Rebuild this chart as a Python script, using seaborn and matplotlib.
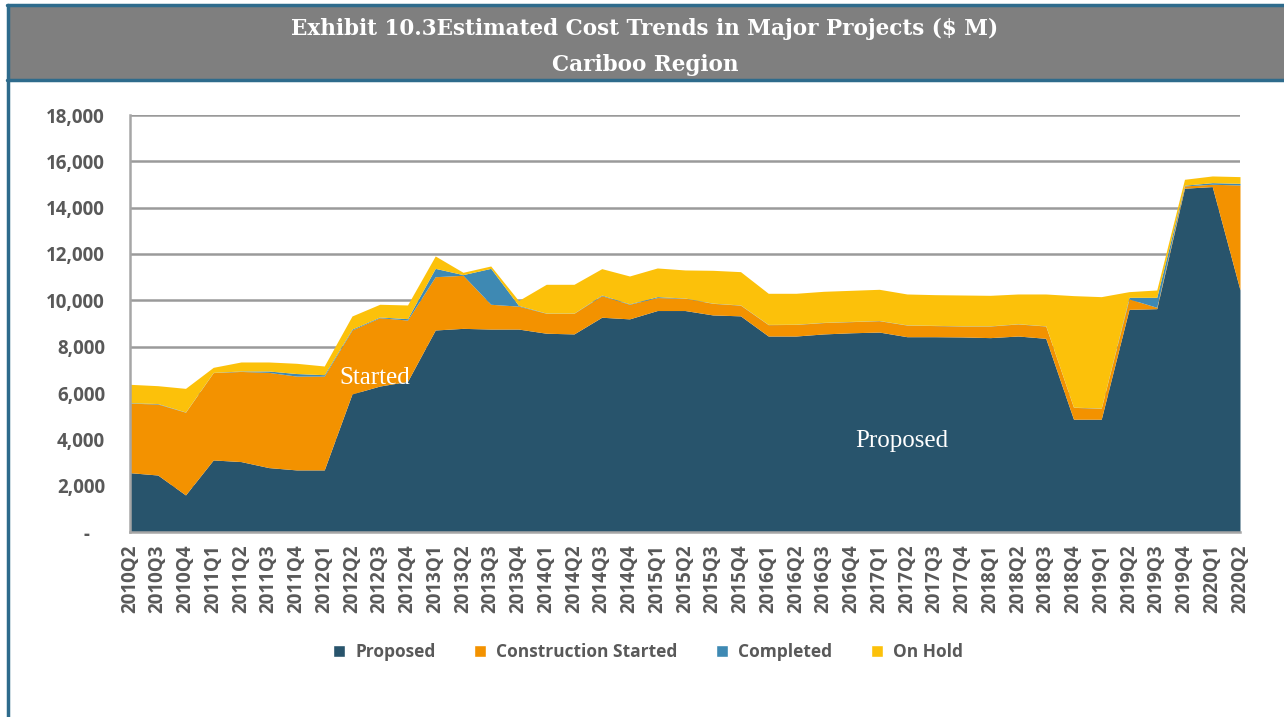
import seaborn as sns
import matplotlib.pyplot as plt
import pandas as pd
from matplotlib.patches import Patch, Rectangle
from matplotlib.lines import Line2D

quarters = ["2010Q2", "2010Q3", "2010Q4", "2011Q1", "2011Q2", "2011Q3", "2011Q4",
            "2012Q1", "2012Q2", "2012Q3", "2012Q4", "2013Q1", "2013Q2", "2013Q3",
            "2013Q4", "2014Q1", "2014Q2", "2014Q3", "2014Q4", "2015Q1", "2015Q2",
            "2015Q3", "2015Q4", "2016Q1", "2016Q2", "2016Q3", "2016Q4", "2017Q1",
            "2017Q2", "2017Q3", "2017Q4", "2018Q1", "2018Q2", "2018Q3", "2018Q4",
            "2019Q1", "2019Q2", "2019Q3", "2019Q4", "2020Q1", "2020Q2"]

proposed = [2560, 2460, 1600, 3110, 3040, 2780, 2680, 2680, 5960, 6300, 6500,
            8720, 8790, 8760, 8760, 8580, 8550, 9270, 9200, 9560, 9560, 9370,
            9330, 8460, 8460, 8550, 8600, 8630, 8430, 8430, 8420, 8390, 8460,
            8360, 4870, 4870, 9610, 9640, 14840, 14910, 10450]
construction = [3000, 3065, 3570, 3770, 3890, 4110, 4050, 4050, 2760, 2950, 2650,
                2300, 2290, 1070, 990, 860, 890, 930, 630, 560, 530, 500,
                460, 490, 500, 490, 480, 490, 500, 480, 470, 500, 520,
                530, 510, 470, 450, 60, 100, 100, 4530]
completed = [20, 20, 10, 10, 20, 60, 110, 60, 40, 30, 60,
             360, 30, 1550, 30, 10, 10, 30, 20, 40, 10, 10,
             10, 10, 10, 10, 10, 10, 10, 10, 10, 10, 10,
             10, 10, 10, 70, 430, 30, 70, 70]
on_hold = [795, 771, 1020, 218, 389, 389, 442, 376, 565, 550, 590,
           535, 100, 103, 210, 1242, 1242, 1138, 1201, 1237, 1211, 1416,
           1438, 1344, 1334, 1340, 1343, 1346, 1334, 1325, 1330, 1316, 1284,
           1374, 4813, 4809, 245, 317, 255, 289, 290]

df = pd.DataFrame({"Proposed": proposed, "Construction Started": construction,
                   "Completed": completed, "On Hold": on_hold}, index=quarters)
colors = ["#28546C", "#F39200", "#3E89B3", "#FCC10A"]

sns.set_theme(style="white")
plt.rcParams["font.family"] = ["Open Sans", "DejaVu Sans"]
txt = "#595959"

fig = plt.figure(figsize=(12.84, 7.17), dpi=100)
ax = fig.add_axes([130/1284, 1-532/717, 1110/1284, 417/717])

x = list(range(len(quarters)))
ax.stackplot(x, [df[c] for c in df.columns], colors=colors, linewidth=0)

ax.set_xlim(0, len(quarters) - 1)
ax.set_ylim(0, 18000)
yt = list(range(0, 18001, 2000))
ax.set_yticks(yt)
ax.set_yticklabels(["-   "] + [f"{v:,}" for v in yt[1:]], fontsize=13.5,
                   fontweight="bold", color=txt)
ax.set_xticks(x)
ax.set_xticklabels(quarters, rotation=90, fontsize=13.5, fontweight="bold", color=txt)
ax.tick_params(axis="y", pad=18, length=0)
ax.tick_params(axis="x", pad=9, length=0)
ax.grid(axis="y", color="#9A9A9A", linewidth=1.8)
ax.set_axisbelow(True)
sns.despine(ax=ax, top=True, right=True)
for s in ["left", "bottom"]:
    ax.spines[s].set_color("#A6A6A6")
    ax.spines[s].set_linewidth(1.8)

ax.text(8.83, 6650, "Started", family="Liberation Serif", fontsize=18,
        color="white", ha="center", va="center")
ax.text(27.8, 3930, "Proposed", family="Liberation Serif", fontsize=18,
        color="white", ha="center", va="center")

# title banner
fig.patches.append(Rectangle((7/1284, 1-80/717), 1, 75/717, transform=fig.transFigure,
                             facecolor="#7F7F7F", edgecolor="none", zorder=0))
border = "#2E6B8C"
fig.add_artist(Line2D([7/1284, 1], [1-5/717, 1-5/717], color=border, lw=2.5))
fig.add_artist(Line2D([7/1284, 1], [1-80/717, 1-80/717], color=border, lw=2.5))
fig.add_artist(Line2D([7.5/1284, 7.5/1284], [0, 1-5/717], color=border, lw=2.5))
fig.text(645/1284, 1-29/717, "Exhibit 10.3Estimated Cost Trends in Major Projects ($ M)",
         family="DejaVu Serif", fontweight="bold", fontsize=15.5, color="white",
         ha="center", va="center")
fig.text(645/1284, 1-65/717, "Cariboo Region", family="DejaVu Serif",
         fontweight="bold", fontsize=15.5, color="white", ha="center", va="center")

handles = [Patch(facecolor=c, label=l) for c, l in zip(colors, df.columns)]
leg = fig.legend(handles=handles, loc="center", bbox_to_anchor=(648/1284, 1-652/717),
                 ncol=4, frameon=False, handlelength=0.7, handleheight=0.7,
                 columnspacing=2.2, handletextpad=0.6,
                 prop={"weight": "bold", "size": 12.5})
for t in leg.get_texts():
    t.set_color(txt)

fig.savefig("out.png", dpi=100)
